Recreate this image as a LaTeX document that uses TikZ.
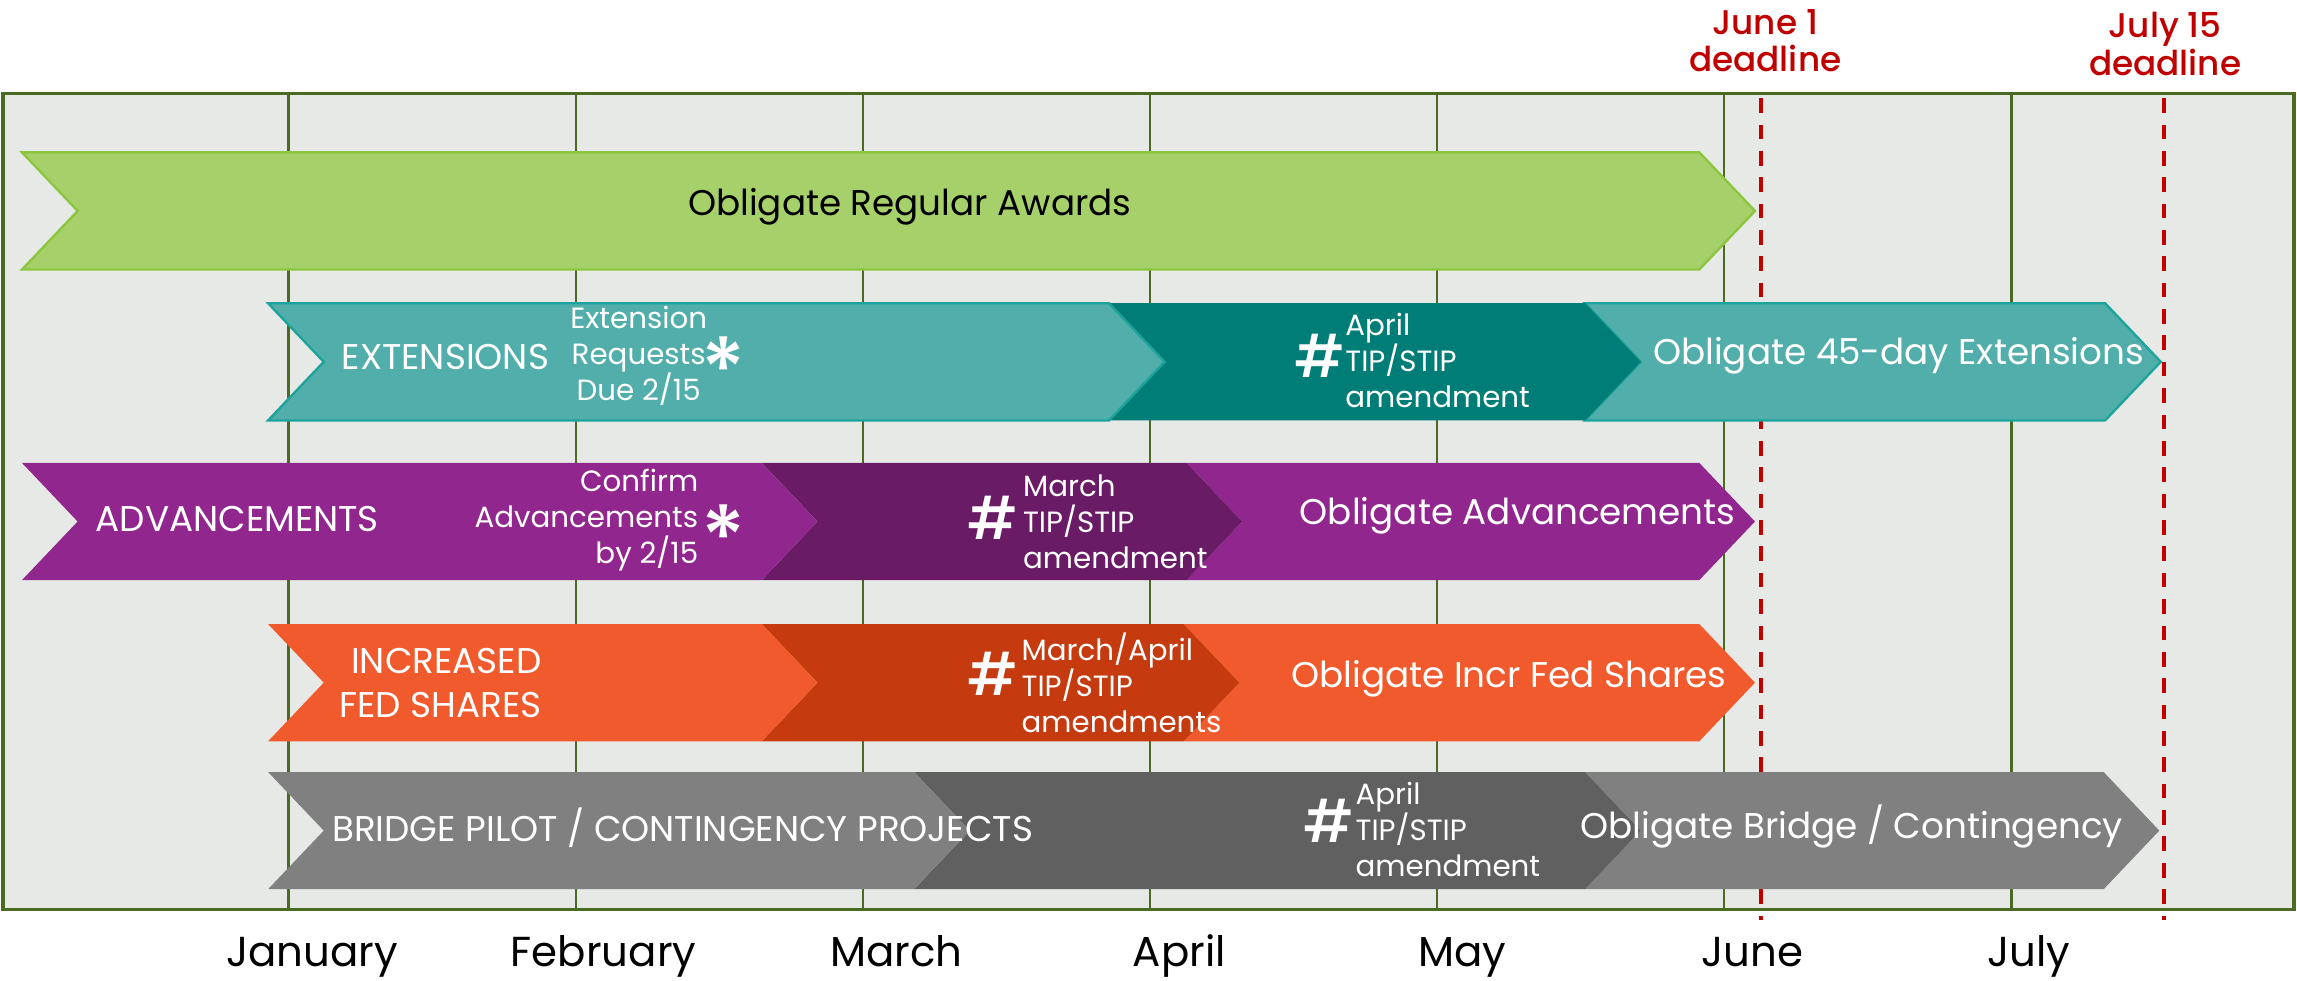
\documentclass[tikz,border=0pt]{standalone}
\usepackage{fontspec}
\setmainfont{Poppins}
\newfontfamily\pmed{Poppins Medium}
\definecolor{bg}{HTML}{E7E9E6}
\definecolor{frame}{HTML}{4B6B24}
\definecolor{grn}{HTML}{A5D06A}
\definecolor{grnb}{HTML}{8CC63F}
\definecolor{tl}{HTML}{52AEAB}
\definecolor{tlb}{HTML}{1BA39C}
\definecolor{td}{HTML}{007D77}
\definecolor{pu}{HTML}{91278E}
\definecolor{pud}{HTML}{6A1B66}
\definecolor{or}{HTML}{F15A2C}
\definecolor{ord}{HTML}{C53A0F}
\definecolor{gy}{HTML}{808080}
\definecolor{gyd}{HTML}{606060}
\definecolor{dl}{HTML}{C00000}
\newcommand\chevr[6]{\path[fill=#1,#2] (#3,#5) -- (#4,#5) -- ({#4+38},{(#5+#6)/2}) -- (#4,#6) -- (#3,#6) -- ({#3+38},{(#5+#6)/2}) -- cycle;}
\begin{document}
\begin{tikzpicture}[x=0.5pt,y=-0.5pt,
  big/.style={text=white,inner sep=0pt,font=\fontsize{12.2}{15}\selectfont},
  small/.style={text=white,inner sep=0pt,font=\fontsize{10}{12.3}\selectfont},
  hashm/.style={text=white,inner sep=0pt,anchor=base,font=\fontsize{20}{20}\selectfont\pmed},
  astm/.style={text=white,inner sep=0pt,anchor=base,font=\fontsize{30}{30}\selectfont\pmed},
  month/.style={text=black,inner sep=0pt,anchor=base,font=\fontsize{14.3}{16}\selectfont},
  deadl/.style={text=dl,inner sep=0pt,align=center,font=\fontsize{11.7}{12.7}\selectfont\pmed},
  mline/.style={draw=frame,line width=0.8pt},
  dline/.style={draw=dl,line width=1.35pt,dash pattern=on 5pt off 4pt}]
\useasboundingbox (0,0) rectangle (1568,669);
\fill[bg] (2,64) rectangle (1566,621);
\foreach \x in {197,393,589,785,981,1177,1373} \draw[mline] (\x,64) -- (\x,621);
\draw[frame,line width=1.1pt] (2,64) rectangle (1566,621);
\coordinate (j1t) at (1202,67); \coordinate (j1b) at (1202,628);
\coordinate (j15t) at (1477,67); \coordinate (j15b) at (1477,628);
\draw[dline] (j1t) -- (j1b);
\draw[dline] (j15t) -- (j15b);
% green
\chevr{grn}{draw=grnb,line width=0.8pt}{15}{1160}{104}{184}
% teal
\chevr{tl}{draw=tlb,line width=0.8pt}{1082}{1437}{207}{287}
\chevr{td}{}{757}{1082}{207}{287}
\chevr{tl}{draw=tlb,line width=0.8pt}{183}{757}{207}{287}
% purple
\chevr{pu}{}{810}{1160}{316}{396}
\chevr{pud}{}{520}{810}{316}{396}
\chevr{pu}{}{15}{520}{316}{396}
% orange
\chevr{or}{}{808}{1160}{426}{506}
\chevr{ord}{}{520}{808}{426}{506}
\chevr{or}{}{183}{520}{426}{506}
% grey
\chevr{gy}{}{1082}{1436}{527}{607}
\chevr{gyd}{}{624}{1082}{527}{607}
\chevr{gy}{}{183}{624}{527}{607}
% texts
\node[big,text=black] (reg) at (621,141) {Obligate Regular Awards};
\node[big] (ext) at (304,244) {EXTENSIONS};
\node[small,align=center] (extreq) at (436,243) {Extension\\Requests\\Due 2/15};
\node[astm] (ast1) at (494,274) {*};
\node[hashm] (h1) at (901,258) {\#};
\node[small,align=left,anchor=west] (apr1) at (918,246) {April\\TIP/STIP\\amendment};
\node[big] (ob45) at (1296,243) {Obligate 45-day Extensions};
\node[big] (adv) at (162,354) {ADVANCEMENTS};
\node[small,align=right,anchor=east] (conf) at (477,355) {Confirm\\Advancements\\by 2/15};
\node[astm] (ast2) at (494,389) {*};
\node[hashm] (h2) at (678,368) {\#};
\node[small,align=left,anchor=west] (mar) at (698,356) {March\\TIP/STIP\\amendment};
\node[big] (obadv) at (1036,352) {Obligate Advancements};
\node[big,align=right,anchor=east] (incr) at (370,466) {INCREASED\\FED SHARES};
\node[hashm] (h3) at (678,475) {\#};
\node[small,align=left,anchor=west] (marapr) at (697,466) {March/April\\TIP/STIP\\amendments};
\node[big] (obincr) at (1030,463) {Obligate Incr Fed Shares};
\node[big] (bridge) at (466,565) {BRIDGE PILOT / CONTINGENCY PROJECTS};
\node[hashm] (h4) at (907,575) {\#};
\node[small,align=left,anchor=west] (apr2) at (925,566) {April\\TIP/STIP\\amendment};
\node[big] (obbr) at (1264,564) {Obligate Bridge / Contingency};
% months
\node[month] (mjan) at (213,660) {January};
\node[month] (mfeb) at (412,660) {February};
\node[month] (mmar) at (612,660) {March};
\node[month] (mapr) at (805,660) {April};
\node[month] (mmay) at (998,660) {May};
\node[month] (mjun) at (1196,660) {June};
\node[month] (mjul) at (1385,660) {July};
% deadlines
\node[deadl] (dj1) at (1205,28) {June 1\\deadline};
\node[deadl] (dj15) at (1478,30) {July 15\\deadline};
\end{tikzpicture}
\end{document}
